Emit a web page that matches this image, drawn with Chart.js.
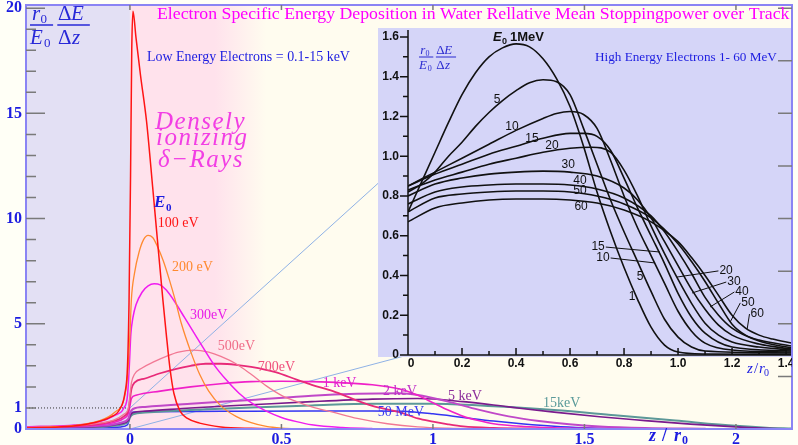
<!DOCTYPE html>
<html lang="en">
<head>
<meta charset="UTF-8">
<title>Electron specific energy deposition</title>
<style>
  body { margin: 0; background: #fffff6; }
  #wrap { position: relative; width: 798px; height: 445px; }
  #main { position: absolute; left: 0; top: 0; }
  #inset { position: absolute; left: 378px; top: 28px; }
</style>
</head>
<body>
<div id="wrap">
  <canvas id="main" width="798" height="445"></canvas>
  <canvas id="inset" width="414" height="346"></canvas>
</div>
<script src="https://cdn.jsdelivr.net/npm/chart.js@4.4.0/dist/chart.umd.min.js"></script>
<script>
// ---- main chart: low energy electrons, points are [z/r0, r0/E0 dE/dz] ----
var e100eV = [[-0.343,0.05],[-0.25,0.08],[-0.18,0.15],[-0.12,0.3],[-0.066,0.55],[-0.033,0.95],[-0.017,1.67],[-0.008,3],[-0.003,6],[0.002,12],[0.006,18],[0.01,19.85],[0.02,18.6],[0.035,16.8],[0.055,14.6],[0.075,11.5],[0.09,9.1],[0.109,6.1],[0.12,4.5],[0.132,2.9],[0.145,1.7],[0.165,0.86],[0.19,0.5],[0.23,0.28],[0.3,0.1],[0.4,0.03],[0.5,0.01]];
var e200eV = [[-0.343,0.08],[-0.2,0.15],[-0.1,0.4],[-0.05,0.8],[-0.02,1.4],[-0.008,2.5],[0,4.5],[0.005,6.2],[0.015,7.4],[0.03,8.4],[0.045,9.0],[0.06,9.2],[0.075,9.1],[0.09,8.7],[0.11,8.0],[0.13,7.1],[0.15,6.1],[0.17,5.0],[0.2,3.7],[0.23,2.6],[0.26,1.8],[0.3,1.1],[0.35,0.6],[0.4,0.3],[0.45,0.12],[0.5,0.04],[0.55,0.01]];
var e300eV = [[-0.343,0.1],[-0.2,0.17],[-0.1,0.35],[-0.05,0.65],[-0.02,1.0],[-0.008,1.6],[-0.002,3],[0.003,4.5],[0.01,5.3],[0.02,5.9],[0.04,6.5],[0.06,6.8],[0.08,6.9],[0.1,6.85],[0.12,6.6],[0.15,6.0],[0.18,5.3],[0.21,4.6],[0.24,3.9],[0.28,3.0],[0.32,2.3],[0.36,1.7],[0.4,1.25],[0.45,0.85],[0.5,0.55],[0.55,0.35],[0.6,0.2],[0.7,0.07],[0.8,0.02]];
var e500eV = [[-0.343,0.1],[-0.2,0.15],[-0.1,0.28],[-0.05,0.45],[-0.02,0.7],[-0.005,1.0],[0,1.6],[0.005,2.2],[0.015,2.6],[0.04,2.9],[0.08,3.2],[0.12,3.45],[0.16,3.65],[0.21,3.75],[0.26,3.65],[0.3,3.45],[0.35,3.1],[0.4,2.6],[0.45,2.05],[0.5,1.6],[0.55,1.3],[0.6,1.05],[0.67,0.8],[0.75,0.5],[0.85,0.25],[0.95,0.1],[1.05,0.04],[1.2,0.01]];
var e700eV = [[-0.343,0.1],[-0.2,0.14],[-0.1,0.25],[-0.05,0.4],[-0.02,0.6],[-0.005,0.9],[0,1.4],[0.005,1.9],[0.015,2.2],[0.05,2.4],[0.1,2.65],[0.15,2.85],[0.2,3.0],[0.25,3.1],[0.3,3.1],[0.35,3.05],[0.4,2.95],[0.48,2.7],[0.55,2.35],[0.6,2.1],[0.67,1.8],[0.75,1.35],[0.8,1.1],[0.89,0.8],[0.95,0.5],[1.0,0.35],[1.05,0.22],[1.1,0.12],[1.2,0.05],[1.35,0.02]];
var e1keV = [[-0.343,0.1],[-0.2,0.13],[-0.1,0.2],[-0.05,0.32],[-0.02,0.5],[-0.005,0.75],[0,1.1],[0.005,1.45],[0.02,1.6],[0.1,1.8],[0.2,2.0],[0.3,2.15],[0.4,2.25],[0.5,2.27],[0.6,2.25],[0.7,2.2],[0.8,2.1],[0.89,1.9],[0.95,1.6],[1.0,1.25],[1.05,0.9],[1.1,0.6],[1.15,0.4],[1.2,0.25],[1.3,0.12],[1.4,0.06],[1.5,0.03],[1.7,0.01]];
var e2keV = [[-0.343,0.08],[-0.1,0.15],[-0.03,0.3],[-0.005,0.5],[0,0.75],[0.01,0.95],[0.05,1.05],[0.2,1.2],[0.4,1.38],[0.6,1.58],[0.75,1.67],[0.89,1.7],[0.95,1.62],[1.05,1.3],[1.15,0.92],[1.25,0.6],[1.35,0.38],[1.45,0.22],[1.55,0.12],[1.7,0.05],[1.9,0.015]];
var e5keV = [[-0.343,0.06],[-0.1,0.12],[-0.03,0.25],[-0.005,0.4],[0,0.6],[0.01,0.78],[0.05,0.85],[0.2,1.0],[0.4,1.15],[0.6,1.3],[0.8,1.42],[0.95,1.45],[1.1,1.3],[1.25,1.05],[1.4,0.8],[1.55,0.58],[1.7,0.4],[1.85,0.23],[2.0,0.1],[2.1,0.03],[2.185,0.01]];
var e15keV = [[-0.343,0.05],[-0.1,0.1],[-0.03,0.2],[-0.005,0.35],[0,0.55],[0.01,0.7],[0.05,0.78],[0.2,0.9],[0.4,1.02],[0.6,1.12],[0.8,1.2],[1.0,1.2],[1.2,1.08],[1.4,0.9],[1.6,0.65],[1.8,0.4],[2.0,0.15],[2.1,0.06],[2.185,0.02]];
var e50MeV = [[-0.343,0.02],[-0.1,0.05],[-0.03,0.1],[-0.008,0.2],[0,0.6],[0.01,0.8],[0.05,0.82],[0.3,0.84],[0.6,0.86],[0.8,0.86],[0.9,0.84],[1.0,0.72],[1.1,0.55],[1.2,0.38],[1.3,0.24],[1.4,0.13],[1.5,0.06],[1.6,0.02],[1.7,0.005]];

var lowSeries = [e100eV, e200eV, e300eV, e500eV, e700eV, e1keV, e2keV, e5keV, e15keV, e50MeV];
var lowNames = ['100 eV', '200 eV', '300eV', '500eV', '700eV', '1 keV', '2 keV', '5 keV', '15keV', '50 MeV'];

var mainXTicks = [0, 0.5, 1, 1.5, 2];
var mainYLabels = [0, 1, 5, 10, 15, 20];

// ---- inset: high energy electrons 1 - 60 MeV ----
var mev1 = [[0,0.72],[0.05,0.87],[0.1,1.02],[0.15,1.17],[0.2,1.31],[0.25,1.42],[0.3,1.5],[0.35,1.545],[0.4,1.565],[0.45,1.55],[0.5,1.49],[0.55,1.39],[0.6,1.25],[0.65,1.05],[0.7,0.82],[0.75,0.62],[0.8,0.44],[0.85,0.28],[0.9,0.14],[0.95,0.05],[1.0,0.015],[1.1,0.005],[1.42,0.003]];
var mev5 = [[0,0.82],[0.05,0.86],[0.1,0.92],[0.15,1.0],[0.2,1.07],[0.25,1.15],[0.3,1.22],[0.35,1.28],[0.4,1.33],[0.45,1.37],[0.5,1.385],[0.55,1.375],[0.6,1.31],[0.65,1.14],[0.7,0.96],[0.75,0.78],[0.8,0.62],[0.85,0.47],[0.9,0.32],[0.95,0.18],[1.0,0.09],[1.05,0.04],[1.1,0.02],[1.42,0.01]];
var mev10 = [[0,0.85],[0.1,0.92],[0.2,0.99],[0.3,1.06],[0.4,1.13],[0.5,1.19],[0.55,1.215],[0.6,1.225],[0.65,1.21],[0.7,1.14],[0.75,0.98],[0.8,0.8],[0.85,0.64],[0.9,0.5],[0.95,0.36],[1.0,0.22],[1.05,0.12],[1.1,0.06],[1.2,0.025],[1.42,0.015]];
var mev15 = [[0,0.85],[0.1,0.91],[0.2,0.96],[0.3,1.01],[0.4,1.05],[0.5,1.09],[0.6,1.115],[0.65,1.115],[0.7,1.1],[0.75,1.03],[0.8,0.89],[0.85,0.74],[0.9,0.6],[0.95,0.46],[1.0,0.31],[1.05,0.19],[1.1,0.11],[1.2,0.04],[1.42,0.02]];
var mev20 = [[0,0.83],[0.1,0.88],[0.2,0.92],[0.3,0.96],[0.4,0.99],[0.5,1.02],[0.6,1.04],[0.68,1.045],[0.75,1.02],[0.8,0.93],[0.85,0.8],[0.9,0.65],[0.95,0.51],[1.0,0.38],[1.05,0.26],[1.1,0.16],[1.15,0.1],[1.2,0.065],[1.3,0.04],[1.42,0.025]];
var mev30 = [[0,0.8],[0.1,0.86],[0.2,0.89],[0.3,0.91],[0.4,0.92],[0.5,0.925],[0.6,0.92],[0.7,0.9],[0.8,0.84],[0.85,0.78],[0.9,0.69],[0.95,0.57],[1.0,0.45],[1.05,0.33],[1.1,0.23],[1.15,0.15],[1.2,0.1],[1.3,0.055],[1.42,0.03]];
var mev40 = [[0,0.76],[0.1,0.82],[0.2,0.845],[0.3,0.855],[0.4,0.86],[0.5,0.86],[0.6,0.855],[0.7,0.835],[0.8,0.79],[0.9,0.7],[0.95,0.62],[1.0,0.52],[1.05,0.41],[1.1,0.29],[1.15,0.2],[1.2,0.135],[1.3,0.07],[1.42,0.035]];
var mev50 = [[0,0.72],[0.1,0.79],[0.2,0.81],[0.3,0.82],[0.4,0.825],[0.5,0.825],[0.6,0.82],[0.7,0.8],[0.8,0.76],[0.9,0.69],[1.0,0.56],[1.05,0.47],[1.1,0.37],[1.15,0.26],[1.2,0.155],[1.25,0.1],[1.3,0.075],[1.42,0.045]];
var mev60 = [[0,0.67],[0.1,0.74],[0.2,0.765],[0.3,0.78],[0.4,0.785],[0.5,0.785],[0.6,0.78],[0.7,0.765],[0.8,0.73],[0.9,0.67],[1.0,0.57],[1.05,0.49],[1.1,0.4],[1.15,0.3],[1.2,0.2],[1.25,0.135],[1.3,0.1],[1.35,0.08],[1.42,0.06]];

var highSeries = [mev1, mev5, mev10, mev15, mev20, mev30, mev40, mev50, mev60];
var highNames = ['1', '5', '10', '15', '20', '30', '40', '50', '60'];

var insetXTicks = [0, 0.2, 0.4, 0.6, 0.8, 1.0, 1.2, 1.4];
var insetYTicks = [0, 0.2, 0.4, 0.6, 0.8, 1.0, 1.2, 1.4, 1.6];

// ---- styling / label placement ----
var lowColors = ['#ff1414', '#ff8a30', '#f01cf0', '#f27894', '#e82a78', '#f020c8', '#c048c8', '#7a1a8c', '#5c9898', '#3434f2'];
var lowLabelColors = ['#ff1414', '#ff8a30', '#e81ce8', '#f06c88', '#f0507c', '#e020d0', '#c030c8', '#8a2a9a', '#5a9a9a', '#3a3af0'];
var lowWidths = [1.5, 1.3, 1.5, 1.3, 1.8, 1.6, 2, 1.6, 2, 1.5];
var lowLabelAt = [[0.092,9.76],[0.139,7.67],[0.198,5.38],[0.29,3.95],[0.422,2.93],[0.636,2.19],[0.835,1.81],[1.05,1.57],[1.363,1.24],[0.818,0.81]];
// inset tags: text, x, y, leader end x, leader end y
var insetTags = [
  ['5', 0.33, 1.283], ['10', 0.385, 1.147], ['15', 0.459, 1.087], ['20', 0.533, 1.052],
  ['30', 0.593, 0.956], ['40', 0.637, 0.875], ['50', 0.637, 0.825], ['60', 0.641, 0.745],
  ['15', 0.704, 0.543, 0.933, 0.518], ['10', 0.722, 0.488, 0.915, 0.463],
  ['5', 0.859, 0.392], ['1', 0.83, 0.292],
  ['20', 1.178, 0.423, 0.996, 0.392], ['30', 1.207, 0.367, 1.052, 0.312],
  ['40', 1.237, 0.317, 1.119, 0.242], ['50', 1.259, 0.262, 1.193, 0.166],
  ['60', 1.293, 0.206, 1.256, 0.131]
];
var zoomLinks = [[0, 0, 0, 0], [0, 1, 0, 1.0]]; // main (x,y) -> inset (x,y)

var SERIF = '"Liberation Serif", "Times New Roman", serif';
var SANS = '"Liberation Sans", Arial, sans-serif';
var BLUE = '#1c1ce0';

function pts(s) { return s.map(function (p) { return { x: p[0], y: p[1] }; }); }
function fmtInset(v) { return v === 0 ? '0' : v.toFixed(1); }

function txt(ctx, s, x, y, font, color, align, base) {
  ctx.font = font;
  ctx.fillStyle = color;
  ctx.textAlign = align || 'left';
  ctx.textBaseline = base || 'alphabetic';
  ctx.fillText(s, x, y);
}

function fitText(ctx, s, x, y, w, style, family, color) {
  ctx.font = style + ' 20px ' + family;
  var size = 20 * w / ctx.measureText(s).width;
  txt(ctx, s, x, y, style + ' ' + size.toFixed(2) + 'px ' + family, color);
}

// r0/E0 * dE/dz written as two stacked fractions
function drawFrac(ctx, ox, oy, s, color) {
  var it = 'italic ' + s + 'px ' + SERIF, up = s + 'px ' + SERIF, sub = Math.round(s * 0.62) + 'px ' + SERIF;
  txt(ctx, 'r', ox + 0.1 * s, oy - 0.25 * s, it, color);
  txt(ctx, '0', ox + 0.5 * s, oy - 0.1 * s, sub, color);
  txt(ctx, 'E', ox, oy + 0.9 * s, it, color);
  txt(ctx, '0', ox + 0.67 * s, oy + 1.05 * s, sub, color);
  txt(ctx, '\u0394', ox + 1.33 * s, oy - 0.25 * s, up, color);
  txt(ctx, 'E', ox + 1.95 * s, oy - 0.25 * s, it, color);
  txt(ctx, '\u0394', ox + 1.33 * s, oy + 0.9 * s, up, color);
  txt(ctx, 'z', ox + 2.0 * s, oy + 0.9 * s, it, color);
  ctx.strokeStyle = color;
  ctx.lineWidth = Math.max(1, s / 14);
  ctx.beginPath();
  ctx.moveTo(ox, oy); ctx.lineTo(ox + 1.1 * s, oy);
  ctx.moveTo(ox + 1.3 * s, oy); ctx.lineTo(ox + 2.85 * s, oy);
  ctx.stroke();
}

var mainChart, insetChart;

function drawZoomLines(ctx, offX, offY) {
  if (!mainChart || !insetChart) return;
  var mx = mainChart.scales.x, my = mainChart.scales.y;
  var ix = insetChart.scales.x, iy = insetChart.scales.y;
  var cx = insetChart.canvas.offsetLeft, cy = insetChart.canvas.offsetTop;
  ctx.save();
  ctx.strokeStyle = '#8fb2e6';
  ctx.lineWidth = 1;
  zoomLinks.forEach(function (l) {
    ctx.beginPath();
    ctx.moveTo(mx.getPixelForValue(l[0]) - offX, my.getPixelForValue(l[1]) - offY);
    ctx.lineTo(cx + ix.getPixelForValue(l[2]) - offX, cy + iy.getPixelForValue(l[3]) - offY);
    ctx.stroke();
  });
  ctx.restore();
}

var mainDeco = {
  id: 'mainDeco',
  beforeDraw: function (chart) {
    var ctx = chart.ctx, a = chart.chartArea, xs = chart.scales.x;
    ctx.save();
    ctx.fillStyle = '#fffff6';
    ctx.fillRect(0, 0, chart.width, chart.height);
    var x0 = xs.getPixelForValue(0);
    ctx.fillStyle = '#e3e0f4';
    ctx.fillRect(a.left, a.top, x0 - a.left, a.bottom - a.top);
    var g = ctx.createLinearGradient(xs.getPixelForValue(0.28), 0, xs.getPixelForValue(0.45), 0);
    g.addColorStop(0, '#ffe2ec');
    g.addColorStop(1, '#fffcef');
    ctx.fillStyle = g;
    ctx.fillRect(x0, a.top, a.right - x0, a.bottom - a.top);
    ctx.restore();
  },
  beforeDatasetsDraw: function (chart) {
    var ctx = chart.ctx, a = chart.chartArea, xs = chart.scales.x, ys = chart.scales.y;
    ctx.save();
    ctx.strokeStyle = '#333';
    ctx.setLineDash([1, 2]);
    ctx.lineWidth = 1;
    ctx.beginPath();
    ctx.moveTo(a.left, ys.getPixelForValue(1));
    ctx.lineTo(xs.getPixelForValue(0), ys.getPixelForValue(1));
    ctx.stroke();
    ctx.restore();
    drawZoomLines(ctx, 0, 0);
  },
  afterDatasetsDraw: function (chart) {
    var ctx = chart.ctx, a = chart.chartArea, xs = chart.scales.x, ys = chart.scales.y;
    ctx.save();
    // frame
    ctx.strokeStyle = '#8a84f4';
    ctx.lineWidth = 2;
    ctx.strokeRect(a.left, a.top, a.right - a.left, a.bottom - a.top);
    // ticks
    ctx.strokeStyle = '#7a7a7a';
    ctx.lineWidth = 1.5;
    ctx.beginPath();
    for (var v = 1; v <= 20; v++) {
      var py = ys.getPixelForValue(v), len = (v % 5 === 0) ? 19 : 10;
      ctx.moveTo(a.left, py); ctx.lineTo(a.left + len, py);
    }
    for (var r = 2.5; r <= 20; r += 2.5) {
      var ry = ys.getPixelForValue(r);
      ctx.moveTo(a.right - 14, ry); ctx.lineTo(a.right, ry);
    }
    mainXTicks.forEach(function (t) {
      var px = xs.getPixelForValue(t);
      ctx.moveTo(px, a.top); ctx.lineTo(px, a.top + 5);
      ctx.moveTo(px, a.bottom); ctx.lineTo(px, a.bottom - 5);
    });
    ctx.stroke();

    // curve labels
    lowNames.forEach(function (n, i) {
      txt(ctx, n, xs.getPixelForValue(lowLabelAt[i][0]), ys.getPixelForValue(lowLabelAt[i][1]),
        '14px ' + SERIF, lowLabelColors[i], 'left', 'middle');
    });
    txt(ctx, 'E', 154, 207, 'bold italic 17px ' + SERIF, BLUE);
    txt(ctx, '0', 166, 211, 'bold 11px ' + SERIF, BLUE);

    // titles
    fitText(ctx, 'Electron Specific Energy Deposition in Water Rellative Mean Stoppingpower over Track', 157, 19, 633, '', SERIF, '#ff00ff');
    fitText(ctx, 'Low Energy Electrons = 0.1-15 keV', 147, 61, 203, '', SERIF, BLUE);
    ctx.letterSpacing = '1.5px';
    txt(ctx, 'Densely', 155, 129, 'italic 25px ' + SERIF, '#f23ee4');
    txt(ctx, 'ionizing', 156, 145, 'italic 25px ' + SERIF, '#f23ee4');
    txt(ctx, '\u03b4\u2212Rays', 158, 167, 'italic 25px ' + SERIF, '#f23ee4');
    ctx.letterSpacing = '0px';

    // axis titles
    drawFrac(ctx, 30, 25, 21, '#2828d8');
    txt(ctx, 'z', 649, 441, 'bold italic 18px ' + SERIF, BLUE);
    txt(ctx, '/', 662, 441, 'bold 18px ' + SERIF, BLUE);
    txt(ctx, 'r', 674, 441, 'bold italic 18px ' + SERIF, BLUE);
    txt(ctx, '0', 682, 444, 'bold 12px ' + SERIF, BLUE);
    // inset x-axis title sits under the inset frame
    txt(ctx, 'z', 747, 373, 'italic 15px ' + SERIF, BLUE);
    txt(ctx, '/', 754, 373, '15px ' + SERIF, BLUE);
    txt(ctx, 'r', 759, 373, 'italic 15px ' + SERIF, BLUE);
    txt(ctx, '0', 764, 376, '10px ' + SERIF, BLUE);
    ctx.restore();
  }
};

var insetDeco = {
  id: 'insetDeco',
  beforeDraw: function (chart) {
    var ctx = chart.ctx, a = chart.chartArea;
    ctx.save();
    ctx.fillStyle = '#d5d5f8';
    ctx.fillRect(0, 0, chart.width, a.bottom + 2);
    ctx.restore();
  },
  beforeDatasetsDraw: function (chart) {
    drawZoomLines(chart.ctx, chart.canvas.offsetLeft, chart.canvas.offsetTop);
  },
  afterDatasetsDraw: function (chart) {
    var ctx = chart.ctx, a = chart.chartArea, xs = chart.scales.x, ys = chart.scales.y;
    var offX = chart.canvas.offsetLeft, offY = chart.canvas.offsetTop;
    ctx.save();
    // axes
    ctx.strokeStyle = '#111';
    ctx.lineWidth = 1.5;
    ctx.beginPath();
    ctx.moveTo(a.left, a.top + 2); ctx.lineTo(a.left, a.bottom);
    ctx.lineTo(a.right, a.bottom);
    for (var i = 0; i <= 16; i++) {
      var py = ys.getPixelForValue(i / 10);
      ctx.moveTo(a.left, py); ctx.lineTo(a.left - (i % 2 === 0 ? 8 : 5), py);
    }
    for (var j = 1; j <= 14; j++) {
      var px = xs.getPixelForValue(j / 10);
      ctx.moveTo(px, a.bottom); ctx.lineTo(px, a.bottom - (j % 2 === 0 ? 7 : 4));
    }
    ctx.stroke();
    // x tick labels below the frame
    insetXTicks.forEach(function (t) {
      txt(ctx, fmtInset(t), xs.getPixelForValue(t) + (t === 0 ? 3 : 0), a.bottom + 3,
        'bold 12px ' + SANS, '#111', 'center', 'top');
    });

    // curve tags
    ctx.lineWidth = 1;
    insetTags.forEach(function (t) {
      var tx = xs.getPixelForValue(t[1]), ty = ys.getPixelForValue(t[2]);
      txt(ctx, t[0], tx, ty, '12px ' + SANS, '#111', 'center', 'middle');
      if (t.length > 3) {
        var w = ctx.measureText(t[0]).width / 2 + 1;
        var ex = xs.getPixelForValue(t[3]), ey = ys.getPixelForValue(t[4]);
        ctx.beginPath();
        ctx.moveTo(ex < tx ? tx - w : tx + w, ty);
        ctx.lineTo(ex, ey);
        ctx.stroke();
      }
    });
    var ex0 = xs.getPixelForValue(0.315), ey0 = ys.getPixelForValue(1.58);
    txt(ctx, 'E', ex0, ey0, 'bold italic 13px ' + SANS, '#111');
    txt(ctx, '0', ex0 + 9, ey0 + 3, 'bold 9px ' + SANS, '#111');
    txt(ctx, '1MeV', ex0 + 17, ey0, 'bold 13px ' + SANS, '#111');

    // page-positioned texts
    ctx.translate(-offX, -offY);
    fitText(ctx, 'High Energy Electrons 1- 60 MeV', 595, 61, 182, '', SERIF, BLUE);
    drawFrac(ctx, 419, 57, 13, '#2a2ad0');
    if (mainChart) {
      var my = mainChart.scales.y, right = mainChart.chartArea.right;
      ctx.strokeStyle = '#8a84f4';
      ctx.lineWidth = 2;
      ctx.beginPath();
      ctx.moveTo(right, offY); ctx.lineTo(right, offY + a.bottom + 2);
      ctx.stroke();
      ctx.strokeStyle = '#7a7a7a';
      ctx.lineWidth = 1.5;
      ctx.beginPath();
      for (var r = 2.5; r <= 20; r += 2.5) {
        var ry = my.getPixelForValue(r);
        if (ry > offY && ry < offY + a.bottom) { ctx.moveTo(right - 14, ry); ctx.lineTo(right, ry); }
      }
      ctx.stroke();
    }
    ctx.restore();
  }
};

function noPad(s) { s.paddingLeft = 0; s.paddingRight = 0; s.paddingTop = 0; s.paddingBottom = 0; }

mainChart = new Chart(document.getElementById('main'), {
  type: 'line',
  data: {
    datasets: lowSeries.map(function (s, i) {
      return { label: lowNames[i], data: pts(s), borderColor: lowColors[i], borderWidth: lowWidths[i],
        pointRadius: 0, fill: false, cubicInterpolationMode: 'monotone' };
    })
  },
  options: {
    responsive: false, animation: false, devicePixelRatio: 1,
    layout: { padding: { top: 5, right: 6, left: 0, bottom: 0 } },
    plugins: { legend: { display: false }, tooltip: { enabled: false } },
    scales: {
      x: {
        type: 'linear', min: -0.343, max: 2.185,
        afterBuildTicks: function (s) { s.ticks = mainXTicks.map(function (v) { return { value: v }; }); },
        afterFit: function (s) { s.height = 16; noPad(s); },
        grid: { display: false, drawTicks: false }, border: { display: false },
        ticks: { padding: 1, autoSkip: false, maxRotation: 0, color: BLUE,
          font: { family: SERIF, size: 16, weight: 'bold' },
          callback: function (v) { return String(v); } }
      },
      y: {
        type: 'linear', min: 0, max: 20.15,
        afterBuildTicks: function (s) { s.ticks = mainYLabels.map(function (v) { return { value: v }; }); },
        afterFit: function (s) { s.width = 26; noPad(s); },
        grid: { display: false, drawTicks: false }, border: { display: false },
        ticks: { padding: 4, autoSkip: false, color: BLUE,
          font: { family: SERIF, size: 16, weight: 'bold' },
          callback: function (v) { return String(v); } }
      }
    }
  },
  plugins: [mainDeco]
});

insetChart = new Chart(document.getElementById('inset'), {
  type: 'line',
  data: {
    datasets: highSeries.map(function (s, i) {
      return { label: highNames[i] + ' MeV', data: pts(s), borderColor: '#111', borderWidth: 1.6,
        pointRadius: 0, fill: false, cubicInterpolationMode: 'monotone' };
    })
  },
  options: {
    responsive: false, animation: false, devicePixelRatio: 1,
    layout: { padding: 0 },
    plugins: { legend: { display: false }, tooltip: { enabled: false } },
    scales: {
      x: {
        type: 'linear', min: 0, max: 1.422,
        afterBuildTicks: function (s) { s.ticks = insetXTicks.map(function (v) { return { value: v }; }); },
        afterFit: function (s) { s.height = 19; noPad(s); },
        grid: { display: false, drawTicks: false }, border: { display: false },
        ticks: { display: false }
      },
      y: {
        type: 'linear', min: 0, max: 1.645,
        afterBuildTicks: function (s) { s.ticks = insetYTicks.map(function (v) { return { value: v }; }); },
        afterFit: function (s) { s.width = 30; noPad(s); },
        grid: { display: false, drawTicks: false }, border: { display: false },
        ticks: { padding: 9, autoSkip: false, color: '#111',
          font: { family: SANS, size: 12, weight: 'bold' },
          callback: fmtInset }
      }
    }
  },
  plugins: [insetDeco]
});

mainChart.draw();
</script>
</body>
</html>
